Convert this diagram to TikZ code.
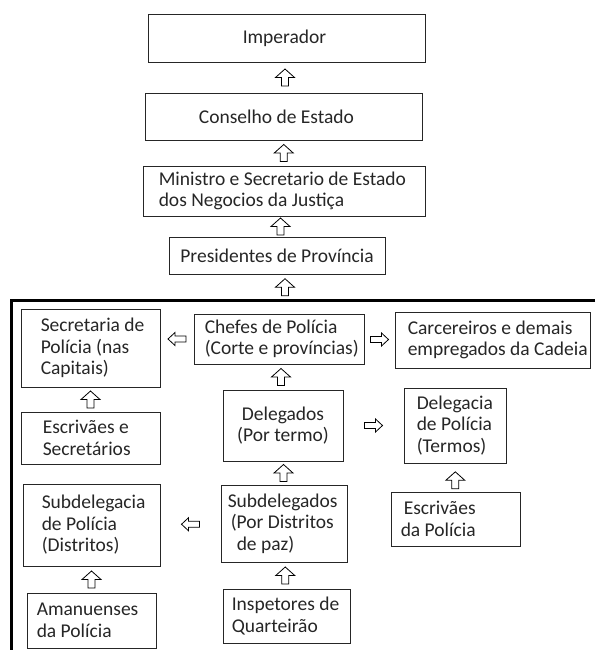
\documentclass[tikz,border=0pt]{standalone}
\usepackage{fontspec}
\setmainfont{Carlito}
\usetikzlibrary{calc}

\begin{document}
\begin{tikzpicture}[x=1pt, y=-1pt,
                    box/.style={draw=black!85, line width=0.9pt, inner sep=0pt},
                    txt/.style={align=left, inner sep=0pt, text=black!85,
                                font=\fontsize{19.5}{21.5}\selectfont},
                    uparr/.pic={\draw[line width=0.8pt, line join=miter]
                                (0,-8.5) -- (9.5,0) -- (3.5,0) -- (3.5,8.5)
                                -- (-3.5,8.5) -- (-3.5,0) -- (-9.5,0) -- cycle;},
                    sidearr/.pic={\draw[line width=0.8pt, line join=miter]
                                (9,0) -- (2,-6.5) -- (2,-3) -- (-9,-3)
                                -- (-9,3) -- (2,3) -- (2,6.5) -- cycle;}]
                      \useasboundingbox (0,0) rectangle (595,650);

                      % upper chain
                      \node[box, minimum width=277pt, minimum height=48pt] (imp) at (286.5, 38) {};
                      \node[box, minimum width=277pt, minimum height=47pt] (cons) at (283.5, 116.5) {};
                      \node[box, minimum width=282pt, minimum height=50pt] (mins) at (284, 191) {};
                      \node[box, minimum width=216pt, minimum height=37pt] (pres) at (277, 255.5) {};
                      \coordinate (fr) at (285, 300);

                      % police
                      \node[box, minimum width=139pt, minimum height=78pt] (sec) at (90.5, 348) {};
                      \node[box, minimum width=170pt, minimum height=50pt] (chef) at (279, 339) {};
                      \node[box, minimum width=195pt, minimum height=56pt] (carc) at (492.5, 340) {};
                      \node[box, minimum width=139pt, minimum height=52pt] (escsec) at (90.5, 438) {};
                      \node[box, minimum width=120pt, minimum height=71pt] (deleg) at (283, 425.5) {};
                      \node[box, minimum width=102pt, minimum height=75pt] (delcia) at (455, 425.5) {};
                      \node[box, minimum width=137pt, minimum height=82pt] (subcia) at (91.5, 525) {};
                      \node[box, minimum width=126pt, minimum height=77pt] (subdel) at (284, 523.5) {};
                      \node[box, minimum width=129pt, minimum height=54pt] (escpol) at (455.5, 519) {};
                      \node[box, minimum width=129pt, minimum height=55pt] (aman) at (91.5, 620.5) {};
                      \node[box, minimum width=127pt, minimum height=54pt] (insp) at (286.5, 616) {};

                      \node[txt] (imp-t) at ([xshift=-2pt]imp.center) {Imperador};
                      \node[txt] (cons-t) at ([xshift=-7pt]cons.center) {Conselho de Estado};
                      \node[txt, anchor=west] (mins-t) at ([xshift=16pt]mins.west) {Ministro e Secretario de Estado\\dos Negocios da Justiça};
                      \node[txt] (pres-t) at (pres.center) {Presidentes de Província};
                      \node[txt, anchor=west] (sec-t) at ([xshift=20pt]sec.west) {Secretaria de\\Polícia (nas\\Capitais)};
                      \node[txt, anchor=west] (chef-t) at ([xshift=11pt]chef.west) {Chefes de Polícia\\(Corte e províncias)};
                      \node[txt, anchor=west] (carc-t) at ([xshift=13pt]carc.west) {Carcereiros e demais\\empregados da Cadeia};
                      \node[txt, anchor=west] (escsec-t) at ([xshift=22pt]escsec.west) {Escrivães e\\Secretários};
                      \node[txt, align=center] (deleg-t) at (deleg.center) {Delegados\\(Por termo)};
                      \node[txt, anchor=west] (delcia-t) at ([xshift=13pt]delcia.west) {Delegacia\\de Polícia\\(Termos)};
                      \node[txt, anchor=west] (subcia-t) at ([xshift=19pt]subcia.west) {Subdelegacia\\de Polícia\\(Distritos)};
                      \node[txt, anchor=west] (subdel-t) at ([xshift=7pt]subdel.west) {Subdelegados\\\hspace*{3pt}(Por Distritos\\\hspace*{9pt}de paz)};
                      \node[txt, anchor=west] (escpol-t) at ([xshift=10pt]escpol.west) {\hspace*{3pt}Escrivães\\da Polícia};
                      \node[txt, anchor=west] (aman-t) at ([xshift=10pt]aman.west) {Amanuenses\\da Polícia};
                      \node[txt, anchor=west] (insp-t) at ([xshift=9pt]insp.west) {Inspetores de\\Quarteirão};

                      % frame round the police
                      \draw[line width=3pt] (595, 300) -- (11, 300) -- (11, 650);

                      \foreach \i/\j/\f in {imp.south/cons.north/0.5, cons.south/mins.north/0.5,
                                            mins.south/pres.north/0.5, pres.south -| fr/fr/0.5,
                                            chef.south/deleg.north/0.5, sec.south/escsec.north/0.5,
                                            deleg.south/subdel.north/0.5, delcia.south/escpol.north/0.6,
                                            subcia.south/aman.north/0.5, subdel.south/insp.north/0.5} {
                              \pic at ($(\i)!\f!(\j)$) {uparr};
                          }
                      \foreach \i/\j/\r in {sec.east |- chef.west/chef.west/180, chef.east/carc.west/0,
                                            deleg.east/delcia.west/0, subcia.east/subdel.west/180} {
                              \pic[rotate=\r] at ($(\i)!0.5!(\j)$) {sidearr};
                          }
                  \end{tikzpicture}
\end{document}
